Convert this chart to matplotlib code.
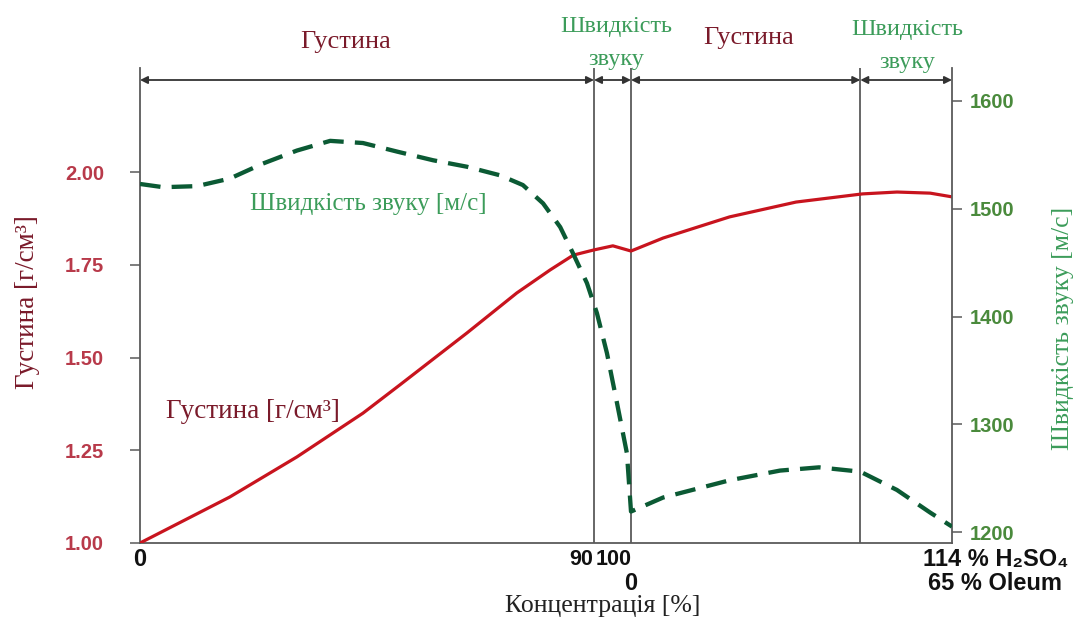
import numpy as np
import matplotlib
matplotlib.use("Agg")
import matplotlib.pyplot as plt
from matplotlib.transforms import blended_transform_factory

# ---------------- data ----------------
conc = [0, 17.8, 31.1, 44.2, 51.5, 64.8, 74.7, 81.3, 85.9, 90, 95.1, 100,
        101.4, 104.3, 107.2, 110.1, 111.6, 113.05, 114]
density = [1.00, 1.124, 1.232, 1.350, 1.426, 1.566, 1.674, 1.736, 1.776, 1.790,
           1.801, 1.787, 1.822, 1.879, 1.919, 1.941, 1.946, 1.943, 1.933]

conc_s = [0, 4.6, 11.3, 17.8, 24.4, 31.1, 37.7, 44.2, 51.0, 58.1, 64.8, 71.4,
          75.9, 79.9, 83.3, 85.8, 88.6, 90.8, 93.5, 96.2, 98.9, 100,
          101.4, 104.3, 106.5, 108.2, 110, 111.6, 113.05, 114]
speed = [1523, 1520, 1521, 1528, 1542, 1554, 1563, 1561, 1553, 1545, 1539, 1531,
         1522, 1505, 1483, 1459, 1431, 1403, 1366, 1320, 1273, 1219,
         1232, 1248, 1257, 1260, 1256, 1239, 1218, 1205]

density_ticks = [1.00, 1.25, 1.50, 1.75, 2.00]
density_tick_labels = ["1.00", "1.25", "1.50", "1.75", "2.00"]
speed_ticks = [1200, 1300, 1400, 1500, 1600]
speed_tick_labels = ["1200", "1300", "1400", "1500", "1600"]

section_bounds = [0, 90, 100, 110, 114]
section_labels = ["Густина", "Швидкість\nзвуку", "Густина", "Швидкість\nзвуку"]
x_tick_pos = [0, 90, 100, 114]
x_tick_row1 = ["0", "90", "100", "114 % H\u2082SO\u2084"]
x_tick_row2 = ["", "", "0", "65 % Oleum"]

# ---------------- style ----------------
SERIF = ["Liberation Serif", "DejaVu Serif"]
SANS = ["Liberation Sans", "DejaVu Sans"]
RED_LINE = "#c8141e"
GREEN_LINE = "#0b5a34"
RED_TXT = "#7a1a2a"
GREEN_TXT = "#3c9c5a"
RED_TICK = "#b83a4a"
GREEN_TICK = "#4a8a3c"
GRAY = "#5a5a5a"

fig = plt.figure(figsize=(10.84, 6.23), dpi=100)
W, H = 1084, 623
left_px, right_px, bot_px, top_px = 140, 952, 543, 68
ax = fig.add_axes([left_px / W, (H - bot_px) / H,
                   (right_px - left_px) / W, (bot_px - top_px) / H])

# piecewise x scale
brk_data = [0, 90, 100, 114]
brk_pos = [0, 454, 491, 812]
fwd = lambda x: np.interp(x, brk_data, brk_pos)
inv = lambda x: np.interp(x, brk_pos, brk_data)
ax.set_xscale("function", functions=(fwd, inv))
ax.set_xlim(0, 114)

# left axis (density)
ax.set_ylim(1.0, 1.0 + (bot_px - top_px) / 371.0)
ax.plot(conc, density, color=RED_LINE, lw=2.3, solid_capstyle="round",
        solid_joinstyle="round", zorder=3)
ax.set_yticks(density_ticks)
ax.set_yticklabels(density_tick_labels, fontfamily=SANS, fontweight="bold",
                   fontsize=14.5, color=RED_TICK)
ax.tick_params(axis="y", length=7, width=1.1, color=GRAY, pad=19)
for s in ["top", "right"]:
    ax.spines[s].set_visible(False)
for s in ["left", "bottom"]:
    ax.spines[s].set_color(GRAY)
    ax.spines[s].set_linewidth(1.3)

# right axis (speed)
ax2 = ax.twinx()
ax2.set_xlim(0, 114)
px_per = 431 / 400.0
ax2.set_ylim(1200 - (bot_px - 532) / px_per, 1200 + (532 - top_px) / px_per)
ax2.plot(conc_s, speed, color=GREEN_LINE, lw=3.1, dashes=(4.8, 2.6),
         dash_joinstyle="round", zorder=3)
ax2.set_yticks(speed_ticks)
ax2.set_yticklabels(speed_tick_labels, fontfamily=SANS, fontweight="bold",
                    fontsize=14.5, color=GREEN_TICK)
ax2.tick_params(axis="y", length=7, width=1.1, color=GRAY, pad=6)
for s in ["top", "left", "bottom"]:
    ax2.spines[s].set_visible(False)
ax2.spines["right"].set_color(GRAY)
ax2.spines["right"].set_linewidth(1.3)

ax.set_xticks([])
ax2.set_xticks([])
ax.tick_params(axis="x", which="both", bottom=False, labelbottom=False)
ax2.tick_params(axis="x", which="both", bottom=False, labelbottom=False)

# section vertical lines
for b in section_bounds[1:-1]:
    ax.axvline(b, color=GRAY, lw=1.3, zorder=1)

# arrows
trans = blended_transform_factory(ax.transData, ax.transAxes)
y_arr = (bot_px - 80) / (bot_px - top_px)
for a, b in zip(section_bounds[:-1], section_bounds[1:]):
    ax.annotate("", xy=(b, y_arr), xytext=(a, y_arr), xycoords=trans, textcoords=trans,
                arrowprops=dict(arrowstyle="<|-|>", color="#333333", lw=1.3,
                                shrinkA=0, shrinkB=0, mutation_scale=11),
                annotation_clip=False)

# section labels
sec_centers_px = [346, 616, 749, 907]
sec_y_px = [42, 43, 38, 46]
sec_colors = [RED_TXT, GREEN_TXT, RED_TXT, GREEN_TXT]
for lbl, cx, cy, c in zip(section_labels, sec_centers_px, sec_y_px, sec_colors):
    fig.text(cx / W, (H - cy) / H, lbl, ha="center", va="center", color=c,
             fontfamily=SERIF, fontsize=19 if "\n" not in lbl else 17.5,
             linespacing=1.7)

# x tick labels (two rows)
xt = blended_transform_factory(ax.transData, ax.transAxes)
row1_off = [(-0.5, "center", 17), (-9.4, "center", 15.5),
            (-12.2, "center", 15.5), (-21, "left", 17)]
row2_off = [(0, "center"), (0, "center"), (0, "center"), (-17.5, "left")]
for pos, l1, l2, (d1, h1, fs1), (d2, h2) in zip(x_tick_pos, x_tick_row1, x_tick_row2,
                                                 row1_off, row2_off):
    ax.annotate(l1, xy=(pos, 0), xycoords=xt, xytext=(d1, -12.2),
                textcoords="offset points", ha=h1, va="center",
                fontfamily=SANS, fontweight="bold", fontsize=fs1,
                color="#111111", annotation_clip=False)
    if l2:
        ax.annotate(l2, xy=(pos, 0), xycoords=xt, xytext=(d2, -29.5),
                    textcoords="offset points", ha=h2, va="center",
                    fontfamily=SANS, fontweight="bold", fontsize=17,
                    color="#111111", annotation_clip=False)

fig.text(603 / W, (H - 606) / H, "Концентрація [%]", ha="center", va="center",
         fontfamily=SERIF, fontsize=18.5, color="#222222")

# axis labels
fig.text(28 / W, (H - 302) / H, "Густина [г/см³]", rotation=90, ha="center",
         va="center", fontfamily=SERIF, fontsize=19.5, color=RED_TXT)
fig.text(1063 / W, (H - 328) / H, "Швидкість звуку [м/с]", rotation=90,
         ha="center", va="center", fontfamily=SERIF, fontsize=18.5, color=GREEN_TXT)

# curve labels
fig.text(368 / W, (H - 204) / H, "Швидкість звуку [м/с]", ha="center", va="center",
         fontfamily=SERIF, fontsize=18, color=GREEN_TXT)
fig.text(253 / W, (H - 412) / H, "Густина [г/см³]", ha="center", va="center",
         fontfamily=SERIF, fontsize=19.5, color=RED_TXT)

fig.savefig("out.png", dpi=100)
